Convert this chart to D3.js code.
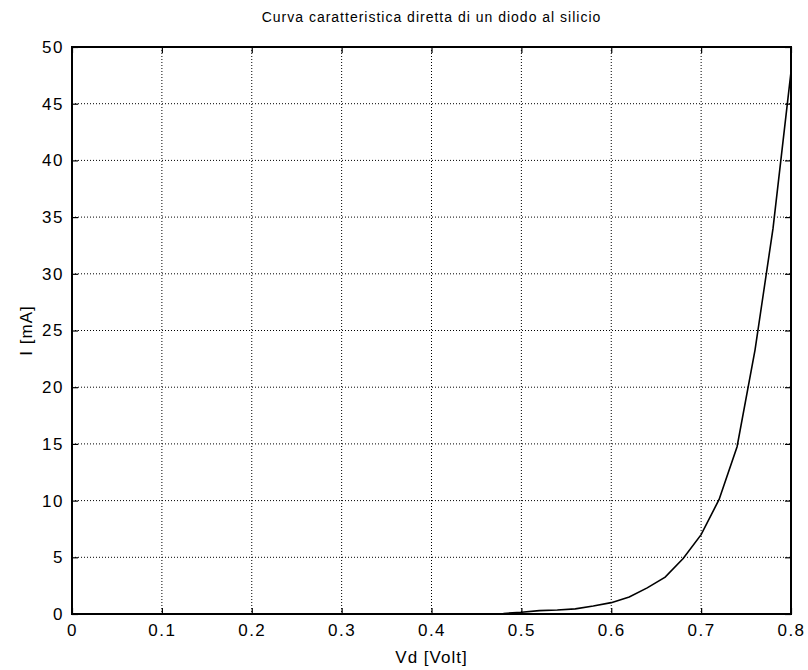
<!DOCTYPE html>
<html><head><meta charset="utf-8">
<script src="https://cdn.jsdelivr.net/npm/d3@7"></script>
<style>body{margin:0;background:#fff}svg{display:block}text{font-family:"Liberation Sans",Arial,sans-serif;fill:#000}</style>
</head><body><svg id="c" width="808" height="670"></svg>
<script>
const voltage = [0,0.1,0.2,0.3,0.4,0.46,0.48,0.50,0.52,0.54,0.56,0.58,0.60,0.62,0.64,0.66,0.68,0.70,0.72,0.74,0.76,0.78,0.80];
const current = [0,0,0,0,0,0,0.05,0.15,0.3,0.35,0.45,0.7,1.0,1.5,2.3,3.25,4.9,7.0,10.1,14.75,23.3,34.0,47.8];
const xTicks = [0,0.1,0.2,0.3,0.4,0.5,0.6,0.7,0.8];
const yTicks = [0,5,10,15,20,25,30,35,40,45,50];
const title = "Curva caratteristica diretta di un diodo al silicio";
const xLabel = "Vd [Volt]";
const yLabel = "I [mA]";

const svg = d3.select("#c");
const L=72,R=791,T=47,B=614;
const x = d3.scaleLinear().domain([0,0.8]).range([L,R]);
const y = d3.scaleLinear().domain([0,50]).range([B,T]);

// grid
const g = svg.append("g");
g.selectAll(".vg").data(xTicks.slice(1,-1)).enter().append("line")
 .attr("x1",d=>x(d)).attr("x2",d=>x(d)).attr("y1",T).attr("y2",B)
 .attr("stroke","#000").attr("stroke-width",1).attr("stroke-dasharray","1,2");
g.selectAll(".hg").data(yTicks.slice(1,-1)).enter().append("line")
 .attr("y1",d=>y(d)).attr("y2",d=>y(d)).attr("x1",L).attr("x2",R)
 .attr("stroke","#000").attr("stroke-width",1).attr("stroke-dasharray","1,2");

// curve
const data = voltage.map((v,i)=>[v,current[i]]);
svg.append("path").datum(data)
 .attr("d",d3.line().x(d=>x(d[0])).y(d=>y(d[1])))
 .attr("fill","none").attr("stroke","#000").attr("stroke-width",1.6);

// axes with inward ticks
const fmt = d=>d===0?"0":String(d);
const ax = (sel,axis)=>{sel.call(axis);sel.select(".domain").remove();sel.selectAll("line").attr("stroke","#000").attr("stroke-width",1.2);sel.selectAll("text").style("font-size","17px").style("letter-spacing","1.5px").attr("fill","#000");};
svg.append("g").attr("transform",`translate(0,${B})`).call(s=>ax(s,d3.axisBottom(x).tickValues(xTicks).tickFormat(fmt).tickSizeInner(-6).tickSizeOuter(0).tickPadding(10)));
svg.append("g").attr("transform",`translate(${L},0)`).call(s=>ax(s,d3.axisLeft(y).tickValues(yTicks).tickFormat(fmt).tickSizeInner(-6).tickSizeOuter(0).tickPadding(8)));
svg.append("g").attr("transform",`translate(0,${T})`).call(s=>{ax(s,d3.axisTop(x).tickValues(xTicks).tickSizeInner(-6).tickSizeOuter(0));s.selectAll("text").remove();});
svg.append("g").attr("transform",`translate(${R},0)`).call(s=>{ax(s,d3.axisRight(y).tickValues(yTicks).tickSizeInner(-6).tickSizeOuter(0));s.selectAll("text").remove();});

// frame
svg.append("rect").attr("x",L).attr("y",T).attr("width",R-L).attr("height",B-T)
 .attr("fill","none").attr("stroke","#000").attr("stroke-width",2);

svg.append("text").attr("x",(L+R)/2).attr("y",22).attr("text-anchor","middle").style("font-size","14px").style("letter-spacing","1px").text(title);
svg.append("text").attr("x",(L+R)/2).attr("y",663).attr("text-anchor","middle").style("font-size","17px").style("letter-spacing","1px").text(xLabel);
svg.append("text").attr("transform",`translate(32,${(T+B)/2}) rotate(-90)`).attr("text-anchor","middle").style("font-size","17px").style("letter-spacing","1px").text(yLabel);
</script></body></html>
